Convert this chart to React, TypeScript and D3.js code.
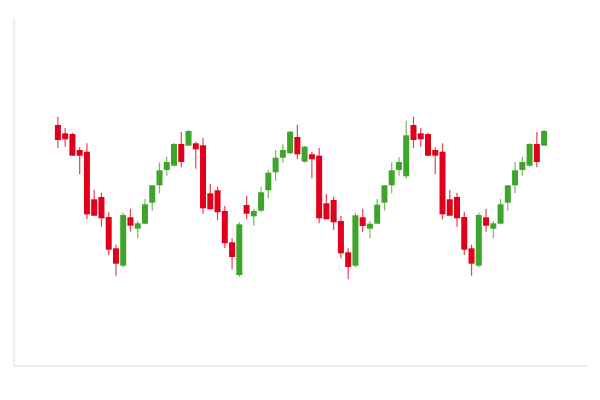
import React, { useEffect, useRef } from 'react';
import * as d3 from 'd3';

// OHLC values (arbitrary price units, 0 = bottom axis)
const opens = [
  241, 232.7, 232, 216, 214.3, 166.7, 169, 149, 117.7, 100.3, 148.7, 137.3, 142.3, 163.3, 180.7, 196, 200.3, 222, 220.3,
  222.7, 220.7, 172.7, 175.7, 155, 123.7, 91, 161, 149.7, 155.3, 175.7, 193.7, 208.3, 212.7, 229, 204.3,
  211.7, 210.3, 162.7, 166, 145, 113.7, 100.3, 148.7, 137.3, 142.3, 163.3, 180.7, 196, 189.7,
  241, 232.7, 232, 216, 214.3, 166.7, 169, 149, 117.7, 100.3, 148.7, 137.3, 142.3, 163.3, 180.7, 196, 200.3, 222, 220.3,
];
const highs = [
  249.3, 238, 233.3, 218.7, 222.7, 176, 173.3, 154.3, 121.3, 153.3, 157.3, 145, 167, 180.7, 203.7, 209.3, 223, 234, 236,
  224.3, 228.3, 182, 179.3, 160, 127.7, 143.7, 170, 157, 179, 196, 216, 221.7, 235.3, 241.3, 220,
  214, 218, 172, 169.3, 150, 117.7, 153.3, 157.3, 145, 167, 180.7, 203.7, 209, 245.3,
  249.3, 238, 233.3, 218.7, 222.7, 176, 173.3, 154.3, 121.3, 153.3, 157.3, 145, 167, 180.7, 203.7, 209.3, 223, 234, 236,
];
const lows = [
  218, 219.3, 210.3, 191.7, 146.7, 150.3, 139.3, 111, 90.3, 98.7, 134.3, 127.7, 141.7, 155.3, 172.7, 190.3, 199.3, 198.7, 220.3,
  197.3, 152.3, 156.7, 146, 117.7, 96.7, 89.3, 147, 140.3, 154, 168, 185.3, 203.3, 212, 206.7, 203.7,
  187.7, 142.7, 146.7, 136, 107.7, 86.7, 98.7, 134.3, 127.7, 141.7, 155.3, 172.7, 190.3, 187.3,
  218, 219.3, 210.3, 191.7, 146.7, 150.3, 139.3, 111, 90.3, 98.7, 134.3, 127.7, 141.7, 155.3, 172.7, 190.3, 199.3, 198.7, 220.3,
];
const closes = [
  226, 226.7, 210.3, 210.3, 151.7, 150.3, 147.7, 116.3, 102.3, 151, 140.3, 142.7, 161.7, 180.7, 195.7, 204, 222, 204, 235,
  216.7, 157.7, 156.7, 153.7, 122.7, 109, 141.7, 152.3, 155, 173.7, 193.3, 208.3, 216, 234.3, 211.7, 219.3,
  206.7, 147.7, 146.7, 143.7, 112.7, 99, 150.7, 140, 142.3, 161.3, 180.7, 195.7, 204, 230.7,
  226, 226.7, 210.3, 210.3, 151.7, 150.3, 147.7, 116.3, 102.3, 151, 140.3, 142.7, 161.7, 180.7, 195.7, 204, 222, 204, 235,
];

const UP = '#3ea52a';
const DOWN = '#e1001b';

const App: React.FC = () => {
  const svgRef = useRef<SVGSVGElement>(null);

  useEffect(() => {
    if (!svgRef.current) return;
    const svg = d3.select(svgRef.current);
    svg.selectAll('*').remove();

    const left = 14, right = 588, top = 18, bottom = 366;

    const candles = opens.map((o, i) => ({ i, o, h: highs[i], l: lows[i], c: closes[i] }));

    const x = d3.scaleBand<number>()
      .domain(candles.map(d => d.i))
      .range([left, right])
      .paddingInner(0)
      .paddingOuter(5.55);
    const y = d3.scaleLinear().domain([0, 348]).range([bottom, top]);

    // frame (left + bottom axis lines only)
    svg.append('line')
      .attr('x1', left).attr('x2', left).attr('y1', top).attr('y2', bottom)
      .attr('stroke', '#dddddd').attr('stroke-width', 1);
    svg.append('line')
      .attr('x1', left).attr('x2', right).attr('y1', bottom).attr('y2', bottom)
      .attr('stroke', '#dddddd').attr('stroke-width', 1);

    const bodyW = 6;
    const g = svg.append('g').selectAll('g').data(candles).enter().append('g');
    const cx = (d: { i: number }) => (x(d.i) as number) + x.bandwidth() / 2;

    g.append('line')
      .attr('x1', cx).attr('x2', cx)
      .attr('y1', d => y(d.h)).attr('y2', d => y(d.l))
      .attr('stroke', d => (d.c >= d.o ? UP : DOWN))
      .attr('stroke-opacity', 0.75)
      .attr('stroke-width', 1.2);

    g.append('rect')
      .attr('x', d => cx(d) - bodyW / 2)
      .attr('width', bodyW)
      .attr('y', d => y(Math.max(d.o, d.c)))
      .attr('height', d => Math.max(1, Math.abs(y(d.o) - y(d.c))))
      .attr('fill', d => (d.c >= d.o ? UP : DOWN));
  }, []);

  return (
    <svg
      ref={svgRef}
      width={600}
      height={400}
      style={{ position: 'absolute', left: 0, top: 0, display: 'block', background: '#fff' }}
    />
  );
};

export default App;
